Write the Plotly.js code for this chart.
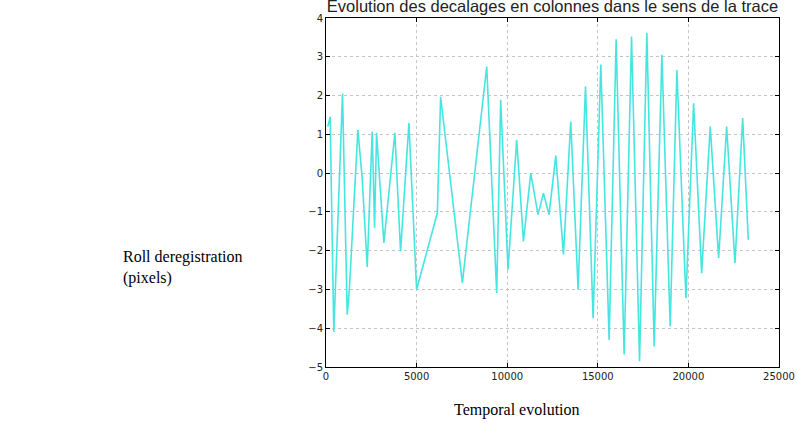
<!DOCTYPE html>
<html>
<head>
<meta charset="utf-8">
<script src="https://cdn.plot.ly/plotly-3.0.1.min.js"></script>
<style>
html,body{margin:0;padding:0;background:#fff;}
#chart{width:797px;height:423px;}
</style>
</head>
<body>
<div id="chart"></div>
<script>
// Temporal samples (x) and roll deregistration in pixels (y)
const timeValues = [100, 230, 430, 912, 1170, 1290, 1760, 2000, 2275, 2550, 2680, 2790, 3195, 3800, 4115, 4575, 5000,
  6145, 6325, 7525, 8870, 9420, 9640, 10045, 10525, 10895, 11300, 11700, 12000, 12310, 12680,
  13105, 13508, 13912, 14321, 14741, 15166, 15625, 16012, 16454, 16862, 17304, 17708, 18111, 18537,
  18995, 19365, 19862, 20288, 20730, 21205, 21669, 22111, 22570, 22995, 23304];
const shiftValues = [1.2, 1.45, -4.1, 2.05, -3.65, -3.0, 1.12, -0.15, -2.42, 1.07, -1.41, 1.04, -1.8, 1.04, -2.02, 1.29, -3.0,
  -1.03, 1.97, -2.83, 2.75, -3.09, 1.89, -2.49, 0.86, -1.76, 0.0, -1.07, -0.52, -1.07, 0.45,
  -2.1, 1.33, -3.0, 2.23, -3.74, 2.8, -4.3, 3.45, -4.68, 3.52, -4.85, 3.61, -4.47, 3.05,
  -3.95, 2.66, -3.22, 1.8, -2.58, 1.2, -2.19, 1.2, -2.32, 1.42, -1.72];
const xTickValues = [0, 5000, 10000, 15000, 20000, 25000];
const yTickValues = [-5, -4, -3, -2, -1, 0, 1, 2, 3, 4];
const yTickLabels = ['\u22125', '\u22124', '\u22123', '\u22122', '\u22121', '0', '1', '2', '3', '4'];
const titleText = 'Evolution des decalages en colonnes dans le sens de la trace';
const yCaption = 'Roll deregistration<br>(pixels)';
const xCaption = 'Temporal evolution';

const trace = {
  x: timeValues,
  y: shiftValues,
  type: 'scatter',
  mode: 'lines',
  line: {color: '#45e6e0', width: 1.6},
  hoverinfo: 'skip'
};

const axisCommon = {
  showline: true, mirror: 'ticks', linecolor: '#000', linewidth: 1,
  ticks: 'inside', ticklen: 4, tickcolor: '#000',
  showgrid: true, gridcolor: '#c4c4c4', griddash: 'dot', gridwidth: 1,
  zeroline: false,
  tickfont: {family: 'DejaVu Sans, sans-serif', size: 10, color: '#222'}
};

const layout = {
  width: 797, height: 423,
  margin: {l: 326, r: 18, t: 18, b: 56},
  paper_bgcolor: '#fff', plot_bgcolor: '#fff',
  showlegend: false,
  title: {
    text: titleText, x: 0.5, xref: 'paper', xanchor: 'center',
    y: 0.9858, yref: 'container', yanchor: 'middle',
    font: {family: 'Liberation Sans, Arial, sans-serif', size: 16.5, color: '#222'}
  },
  xaxis: Object.assign({}, axisCommon, {
    range: [0, 25000], tickvals: xTickValues, ticktext: xTickValues.map(String)
  }),
  yaxis: Object.assign({}, axisCommon, {
    range: [-5, 4], tickvals: yTickValues, ticktext: yTickLabels
  }),
  annotations: [
    {text: yCaption, xref: 'paper', yref: 'paper', x: -0.4525, y: 0.284,
     xanchor: 'left', yanchor: 'middle', align: 'left', showarrow: false,
     font: {family: 'Liberation Serif, Times New Roman, serif', size: 16, color: '#000'}},
    {text: xCaption, xref: 'paper', yref: 'paper', x: 0.4216, y: -0.123,
     xanchor: 'center', yanchor: 'middle', showarrow: false,
     font: {family: 'Liberation Serif, Times New Roman, serif', size: 16, color: '#000'}}
  ]
};

Plotly.newPlot('chart', [trace], layout, {staticPlot: true, displayModeBar: false});
</script>
</body>
</html>
